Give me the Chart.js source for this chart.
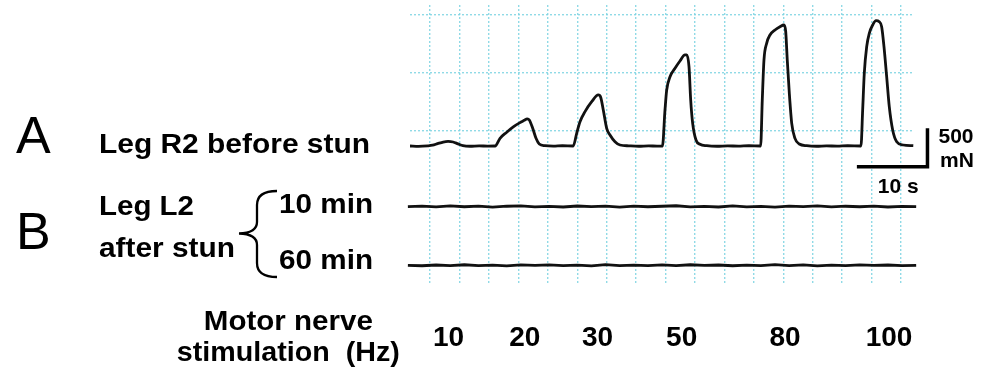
<!DOCTYPE html>
<html><head><meta charset="utf-8">
<script src="https://cdn.jsdelivr.net/npm/chart.js@4.4.1/dist/chart.umd.min.js"></script>
<style>html,body{margin:0;padding:0;background:#fff;}#wrap{width:988px;height:371px;position:relative;}</style>
</head><body><div id="wrap"><canvas id="c" width="988" height="371"></canvas></div>
<script>
// Trace A: Leg R2 before stun (time in s, force in mN)
const timeA = [0,1.2,2.5,3.2,3.9,4.7,5.4,6.1,6.8,7.5,8.5,9.8,11.0,12.04,
  12.75,13.70,14.63,15.58,16.2,16.6,16.90,17.38,17.85,18.31,19.12,20.3,21.6,23.13,
  23.61,24.08,24.79,25.74,26.67,27.01,27.38,27.86,28.33,29.04,29.75,31.0,32.4,33.8,35.0,35.76,
  36.12,36.36,36.83,37.54,38.24,38.95,39.19,39.52,39.76,40.04,40.51,41.08,42.03,43.5,45,46.5,48,49.67,
  49.90,50.14,50.52,50.99,51.70,52.41,52.97,53.22,53.44,53.73,54.07,54.53,55.14,56.19,57.6,59,60.5,62,63.88,
  64.12,64.35,64.69,65.06,65.54,66.01,66.47,66.81,67.14,67.52,67.89,68.37,68.94,69.87,71.29];
const forceA = [0,-4,2,10,30,52,60,52,28,5,-3,2,-2,0,
  100,180,250,305,335,355,339,231,100,26,4,-2,3,0,
  166,317,448,578,666,636,470,231,144,56,13,2,-3,2,-2,0,
  470,731,904,1014,1109,1188,1188,1035,600,296,78,22,4,-3,2,-2,3,0,
  600,1122,1340,1449,1514,1557,1579,1492,1122,688,296,100,26,4,-3,2,-2,3,0,
  470,949,1296,1471,1579,1635,1622,1557,1296,904,513,209,56,13,4];

// Trace B: Leg L2 after stun (10 min and 60 min)
const timeB = [-0.3,1.7,3.7,5.7,7.7,9.7,11.7,13.7,15.7,17.7,19.7,21.7,23.7,25.7,27.7,29.7,31.7,33.7,35.7,
  37.7,39.7,41.7,43.7,45.7,47.7,49.7,51.7,53.7,55.7,57.7,59.7,61.7,63.7,65.7,67.7,69.7,71.7];
const forceB10 = [0,6,-5,8,-3,5,-7,4,9,-4,3,-6,7,-2,5,-8,6,-3,4,10,-5,2,-6,8,-4,3,-7,5,-2,9,-5,4,-3,6,-6,3,0];
const forceB60 = [0,-6,4,-3,7,-5,2,-8,5,-2,6,-4,3,-7,8,-3,2,-5,6,-4,7,-2,4,-6,3,-5,8,-3,5,-7,2,-4,6,-2,4,-5,0];

// Stimulation frequencies (Hz) and the times of their labels (s)
const stimFreqs = [10,20,30,50,80,100];
const stimTimes = [5.45,16.25,26.56,38.48,53.12,67.85];

// Scale bar: 10 s by 500 mN
const scaleBarTime = [63.3,73.3,73.3];
const scaleBarForce = [-270,-270,230];

const FONT = '"Liberation Sans", Arial, Helvetica, sans-serif';
const GRID = 'rgba(125,212,226,0.85)';
const pts = (xs, ys) => xs.map((x,i)=>({x:x,y:ys[i]}));

function fitText(ctx, str, x, y, font, width, align) {
  ctx.font = font;
  const w = ctx.measureText(str).width;
  const k = width / w;
  const left = align === 'center' ? x - width / 2 : x;
  ctx.save();
  ctx.translate(left, y);
  ctx.scale(k, 1);
  ctx.textAlign = 'left';
  ctx.fillText(str, 0, 0);
  ctx.restore();
}

const textPlugin = {
  id:'texts',
  afterDraw(chart){
    const ctx = chart.ctx;
    const sx = chart.scales.x, yA = chart.scales.yA;
    ctx.save();
    ctx.fillStyle = '#000';
    ctx.textBaseline = 'alphabetic';
    ctx.textAlign = 'left';
    ctx.font = '52px ' + FONT;
    ctx.fillText('A', 16, 152.5);
    ctx.fillText('B', 16, 248.5);
    const B27 = 'bold 27px ' + FONT;
    fitText(ctx, 'Leg R2 before stun', 99, 153.3, B27, 271, 'left');
    fitText(ctx, 'Leg L2', 99, 215, B27, 95, 'left');
    fitText(ctx, 'after stun', 99, 256.7, B27, 136, 'left');
    fitText(ctx, '10 min', 279, 213.3, B27, 94, 'left');
    fitText(ctx, '60 min', 279, 269.3, B27, 94, 'left');
    fitText(ctx, 'Motor nerve', 288.3, 330, B27, 169, 'center');
    fitText(ctx, 'stimulation  (Hz)', 288.3, 361, B27, 223, 'center');
    // scale bar labels
    const xr = sx.getPixelForValue(scaleBarTime[2]);
    const xl = sx.getPixelForValue(scaleBarTime[0]);
    const yb = yA.getPixelForValue(scaleBarForce[0]);
    const yt = yA.getPixelForValue(scaleBarForce[2]);
    ctx.font = 'bold 21px ' + FONT;
    ctx.textAlign = 'left';
    ctx.fillText('500', xr + 11, yt + 14.5);
    ctx.fillText('mN', xr + 12.5, yb);
    ctx.textAlign = 'center';
    ctx.fillText('10 s', (xl + xr) / 2 + 6, yb + 26.5);
    // brace
    ctx.strokeStyle = '#000';
    ctx.lineWidth = 2.3;
    ctx.beginPath();
    ctx.moveTo(277,191);
    ctx.quadraticCurveTo(257,191,257,205);
    ctx.lineTo(257,222);
    ctx.quadraticCurveTo(257,233,239,233.5);
    ctx.quadraticCurveTo(257,234,257,245);
    ctx.lineTo(257,263);
    ctx.quadraticCurveTo(257,277,277,277);
    ctx.stroke();
    ctx.restore();
  }
};

new Chart(document.getElementById('c'), {
  type:'line',
  data:{ datasets:[
    {label:'Leg R2 before stun', data:pts(timeA, forceA), xAxisID:'x', yAxisID:'yA',
     borderColor:'#111', borderWidth:2.8, pointRadius:0, cubicInterpolationMode:'monotone', clip:false},
    {label:'Leg L2 10 min', data:pts(timeB, forceB10), xAxisID:'x', yAxisID:'yB10',
     borderColor:'#111', borderWidth:2.8, pointRadius:0, tension:0, clip:false},
    {label:'Leg L2 60 min', data:pts(timeB, forceB60), xAxisID:'x', yAxisID:'yB60',
     borderColor:'#111', borderWidth:2.8, pointRadius:0, tension:0, clip:false},
    {label:'scale', data:pts(scaleBarTime, scaleBarForce), xAxisID:'x', yAxisID:'yA',
     borderColor:'#000', borderWidth:3.5, pointRadius:0, tension:0, clip:false,
     borderJoinStyle:'miter', borderCapStyle:'butt'}
  ]},
  options:{
    responsive:false, animation:false, devicePixelRatio:1,
    layout:{padding:{left:410, right:75, top:5, bottom:0}},
    plugins:{legend:{display:false}, tooltip:{enabled:false}},
    scales:{
      x:{type:'linear', display:false, bounds:'data',
        afterDataLimits:(s)=>{ s.min = 0; s.max = 71.25; }},
      freq:{type:'linear', position:'bottom', min:0, max:71.25, bounds:'data',
        afterBuildTicks:(s)=>{ s.ticks = stimTimes.map(v=>({value:v})); },
        afterFit:(s)=>{ s.height = 86; },
        grid:{display:false, drawTicks:false}, border:{display:false},
        ticks:{padding:36, maxRotation:0, autoSkip:false, color:'#000',
          font:{family:FONT, size:28, weight:'bold'},
          callback:(v,i)=>String(stimFreqs[i])}},
      gx:{type:'linear', position:'bottom', min:-0.6793, max:16.406, bounds:'data',
        afterBuildTicks:(s)=>{ const t=[]; for(let k=0;k<=16;k++) t.push({value:k}); s.ticks=t; },
        grid:{color:GRID, lineWidth:1.4, drawTicks:false}, border:{display:false, dash:[2,2]},
        ticks:{display:false}},
      gy:{type:'linear', position:'left', reverse:true, min:-0.1724, max:4.655, bounds:'data',
        afterBuildTicks:(s)=>{ s.ticks=[{value:0},{value:1},{value:2}]; },
        grid:{color:GRID, lineWidth:1.4, drawTicks:false}, border:{display:false, dash:[2,2]},
        ticks:{display:false}},
      yA:{type:'linear', display:false, min:-1814, max:1840, bounds:'data'},
      yB10:{type:'linear', display:false, min:-1024, max:2630, bounds:'data'},
      yB60:{type:'linear', display:false, min:-257, max:3397, bounds:'data'}
    }
  },
  plugins:[textPlugin]
});
</script></body></html>
